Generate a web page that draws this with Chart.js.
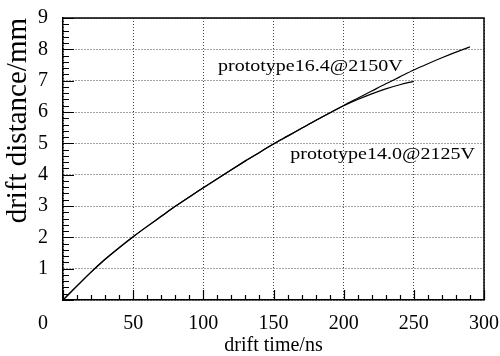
<!DOCTYPE html>
<html>
<head>
<meta charset="utf-8">
<script src="https://cdn.jsdelivr.net/npm/chart.js@4/dist/chart.umd.min.js"></script>
<style>
  html, body { margin: 0; padding: 0; background: #fff; }
  #wrap { width: 500px; height: 356px; }
</style>
</head>
<body>
<div id="wrap"><canvas id="c" width="500" height="356"></canvas></div>
<script>
// Data
const time16 = [0,10,20,30,40,50,60,70,80,90,100,110,120,130,140,150,160,170,180,190,200,210,220,230,240,250,260,270,280,290];
const dist16 = [0,0.45,0.89,1.30,1.67,2.02,2.35,2.67,2.99,3.29,3.58,3.87,4.16,4.44,4.71,4.98,5.23,5.48,5.73,5.97,6.21,6.44,6.67,6.90,7.12,7.34,7.54,7.73,7.91,8.08];
const time14 = [0,10,20,30,40,50,60,70,80,90,100,110,120,130,140,150,160,170,180,190,200,210,220,230,240,250];
const dist14 = [0,0.45,0.89,1.30,1.67,2.02,2.35,2.67,2.99,3.29,3.58,3.87,4.16,4.44,4.71,4.98,5.23,5.48,5.73,5.97,6.20,6.40,6.58,6.74,6.87,6.98];
const seriesNames = ["prototype16.4@2150V", "prototype14.0@2125V"];
const labelPos = [[110.5, 7.3], [162, 4.5]];   // data coords of the in-plot labels (left, baseline)
const xTicks = [0, 50, 100, 150, 200, 250, 300];
const yTicks = [0, 1, 2, 3, 4, 5, 6, 7, 8, 9];
const xTitle = "drift time/ns";
const yTitle = "drift distance/mm";

const FONT = "Liberation Serif";

const toPts = (xs, ys) => xs.map((x, i) => ({ x: x, y: ys[i] }));

const framePlugin = {
  id: 'frame',
  afterDraw(chart) {
    const ctx = chart.ctx;
    const xs = chart.scales.x, ys = chart.scales.y;
    const a = chart.chartArea;
    ctx.save();
    // frame top & right
    ctx.strokeStyle = '#000';
    ctx.lineWidth = 1.5;
    ctx.beginPath();
    ctx.moveTo(a.left, a.top); ctx.lineTo(a.right, a.top); ctx.lineTo(a.right, a.bottom);
    ctx.stroke();
    // inward ticks on x axis
    ctx.lineWidth = 1.2;
    ctx.beginPath();
    for (let v = 0; v <= 300; v += 10) {
      const px = Math.round(xs.getPixelForValue(v)) + 0.5;
      const len = (v % 50 === 0) ? 10 : 5;
      ctx.moveTo(px, a.bottom); ctx.lineTo(px, a.bottom - len);
    }
    // inward ticks on y axis
    for (let k = 0; k <= 45; k++) {
      const v = k * 0.2;
      const py = Math.round(ys.getPixelForValue(v)) + 0.5;
      const len = (k % 5 === 0) ? 11 : 6;
      ctx.moveTo(a.left, py); ctx.lineTo(a.left + len, py);
    }
    ctx.stroke();
    // shared origin label "0"
    ctx.fillStyle = '#000';
    ctx.font = '20px "' + FONT + '"';
    ctx.textAlign = 'right';
    ctx.textBaseline = 'middle';
    ctx.fillText(String(xTicks[0]), a.left - 15, a.bottom + 24);
    // in-plot series labels
    ctx.font = '16px "' + FONT + '"';
    ctx.textAlign = 'left';
    ctx.textBaseline = 'alphabetic';
    seriesNames.forEach((name, i) => {
      const px = xs.getPixelForValue(labelPos[i][0]);
      const py = ys.getPixelForValue(labelPos[i][1]);
      ctx.save();
      ctx.translate(px, py);
      ctx.scale(1.25, 1);
      ctx.fillText(name, 0, 0);
      ctx.restore();
    });
    ctx.restore();
  }
};

new Chart(document.getElementById('c'), {
  type: 'line',
  data: {
    datasets: [
      { label: seriesNames[0], data: toPts(time16, dist16), borderColor: '#000', borderWidth: 1.2,
        pointRadius: 0, fill: false, cubicInterpolationMode: 'monotone' },
      { label: seriesNames[1], data: toPts(time14, dist14), borderColor: '#000', borderWidth: 1.2,
        pointRadius: 0, fill: false, cubicInterpolationMode: 'monotone' }
    ]
  },
  options: {
    responsive: false,
    animation: false,
    layout: { padding: { top: 18, right: 16, left: 0, bottom: 0 } },
    plugins: { legend: { display: false }, tooltip: { enabled: false } },
    scales: {
      x: {
        type: 'linear', min: 0, max: 300,
        afterFit: s => { s.height = 56; s.paddingLeft = 0; s.paddingRight = 0; },
        afterBuildTicks: s => { s.ticks = xTicks.map(v => ({ value: v })); },
        ticks: {
          color: '#000', padding: 12, font: { family: FONT, size: 20 },
          callback: v => (v === 0 ? '' : String(v))
        },
        grid: { color: '#444', lineWidth: 1, drawTicks: false },
        border: { display: true, color: '#000', width: 1.5, dash: [1, 2] },
        title: { display: true, text: xTitle, color: '#000', font: { family: FONT, size: 20, lineHeight: 1.0 },
                 padding: { top: 0, bottom: 0 } }
      },
      y: {
        type: 'linear', min: 0, max: 9,
        afterFit: s => { s.width = 63; s.paddingTop = 0; s.paddingBottom = 0; },
        afterBuildTicks: s => { s.ticks = yTicks.map(v => ({ value: v })); },
        ticks: {
          color: '#000', padding: 15, font: { family: FONT, size: 20 },
          callback: v => (v === 0 ? '' : String(v))
        },
        grid: { color: '#444', lineWidth: 1, drawTicks: false },
        border: { display: true, color: '#000', width: 1.5, dash: [1, 2] },
        title: { display: true, text: yTitle, align: 'end', color: '#000',
                 font: { family: FONT, size: 29, lineHeight: 1.2 },
                 padding: { top: 1, bottom: 0 } }
      }
    }
  },
  plugins: [framePlugin]
});
</script>
</body>
</html>
